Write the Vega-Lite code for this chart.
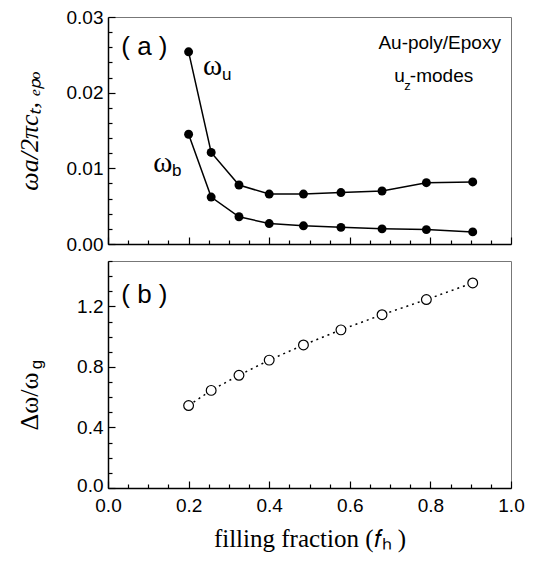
{
  "$schema": "https://vega.github.io/schema/vega-lite/v6.json",
  "padding": {"left": 15, "top": 7, "right": 20, "bottom": 5},
  "background": "white",
  "spacing": 4,
  "config": {
    "view": {"stroke": "#777777", "strokeWidth": 1},
    "axis": {
      "grid": false,
      "labelFlush": false,
      "domainColor": "black",
      "domainWidth": 1.5,
      "tickColor": "black",
      "tickWidth": 1.2,
      "labelFont": "Liberation Sans",
      "labelFontSize": 19,
      "labelColor": "black",
      "titleFont": "Liberation Serif",
      "titleFontSize": 26,
      "titleFontWeight": "normal",
      "titleColor": "black"
    }
  },
  "datasets": {
    "top": [
      {"f": 0.2, "mode": "u", "w": 0.0254},
      {"f": 0.256, "mode": "u", "w": 0.0121},
      {"f": 0.325, "mode": "u", "w": 0.0078},
      {"f": 0.4, "mode": "u", "w": 0.0066},
      {"f": 0.485, "mode": "u", "w": 0.0066},
      {"f": 0.578, "mode": "u", "w": 0.0068},
      {"f": 0.68, "mode": "u", "w": 0.007},
      {"f": 0.79, "mode": "u", "w": 0.0081},
      {"f": 0.905, "mode": "u", "w": 0.0082},
      {"f": 0.2, "mode": "b", "w": 0.0145},
      {"f": 0.256, "mode": "b", "w": 0.0062},
      {"f": 0.325, "mode": "b", "w": 0.0036},
      {"f": 0.4, "mode": "b", "w": 0.0027},
      {"f": 0.485, "mode": "b", "w": 0.0024},
      {"f": 0.578, "mode": "b", "w": 0.0022},
      {"f": 0.68, "mode": "b", "w": 0.002},
      {"f": 0.79, "mode": "b", "w": 0.0019},
      {"f": 0.905, "mode": "b", "w": 0.0016}
    ],
    "bottom": [
      {"f": 0.2, "r": 0.545},
      {"f": 0.256, "r": 0.645},
      {"f": 0.325, "r": 0.745},
      {"f": 0.4, "r": 0.845},
      {"f": 0.485, "r": 0.945},
      {"f": 0.578, "r": 1.045},
      {"f": 0.68, "r": 1.145},
      {"f": 0.79, "r": 1.245},
      {"f": 0.905, "r": 1.355}
    ]
  },
  "vconcat": [
    {
      "width": 403,
      "height": 227,
      "data": {"name": "top"},
      "encoding": {
        "x": {
          "field": "f", "type": "quantitative",
          "scale": {"domain": [0, 1], "nice": false},
          "axis": {
            "title": null,
            "values": [0, 0.05, 0.1, 0.15, 0.2, 0.25, 0.3, 0.35, 0.4, 0.45, 0.5, 0.55, 0.6, 0.65, 0.7, 0.75, 0.8, 0.85, 0.9, 0.95, 1],
            "labels": false,
            "tickSize": {"condition": {"test": "abs(datum.value*5 - round(datum.value*5)) < 0.001", "value": -7}, "value": -4}
          }
        },
        "y": {
          "field": "w", "type": "quantitative",
          "scale": {"domain": [0, 0.03], "nice": false, "zero": false},
          "axis": {
            "title": "ωa/2πcₜ, ₑₚₒ",
            "titleFontStyle": "italic",
            "titlePadding": 20,
            "minExtent": 46,
            "maxExtent": 46,
            "values": [0, 0.002, 0.004, 0.006, 0.008, 0.01, 0.012, 0.014, 0.016, 0.018, 0.02, 0.022, 0.024, 0.026, 0.028, 0.03],
            "labelExpr": "abs(datum.value*100 - round(datum.value*100)) < 0.001 ? format(datum.value, '.2f') : ''",
            "labelPadding": 12,
            "tickSize": {"condition": {"test": "abs(datum.value*100 - round(datum.value*100)) < 0.001", "value": -7}, "value": -4}
          }
        }
      },
      "layer": [
        {"mark": {"type": "line", "color": "black", "strokeWidth": 1.5}, "encoding": {"detail": {"field": "mode"}}},
        {"mark": {"type": "point", "filled": true, "color": "black", "size": 80, "opacity": 1}},
        {"transform": [{"filter": "datum.f === 0.2 && datum.mode === 'u'"}],
         "mark": {"type": "text", "text": "( a )", "font": "Liberation Sans", "fontSize": 26, "align": "left", "baseline": "middle"},
         "encoding": {"x": {"datum": 0.033}, "y": {"datum": 0.02605}}},
        {"transform": [{"filter": "datum.f === 0.2 && datum.mode === 'u'"}],
         "mark": {"type": "text", "text": "ω", "font": "Liberation Serif", "fontSize": 29, "align": "left", "baseline": "middle"},
         "encoding": {"x": {"datum": 0.236}, "y": {"datum": 0.0235}}},
        {"transform": [{"filter": "datum.f === 0.2 && datum.mode === 'u'"}],
         "mark": {"type": "text", "text": "u", "font": "Liberation Sans", "fontSize": 17, "align": "left", "baseline": "middle"},
         "encoding": {"x": {"datum": 0.283}, "y": {"datum": 0.0224}}},
        {"transform": [{"filter": "datum.f === 0.2 && datum.mode === 'u'"}],
         "mark": {"type": "text", "text": "ω", "font": "Liberation Serif", "fontSize": 29, "align": "left", "baseline": "middle"},
         "encoding": {"x": {"datum": 0.112}, "y": {"datum": 0.0107}}},
        {"transform": [{"filter": "datum.f === 0.2 && datum.mode === 'u'"}],
         "mark": {"type": "text", "text": "b", "font": "Liberation Sans", "fontSize": 17, "align": "left", "baseline": "middle"},
         "encoding": {"x": {"datum": 0.159}, "y": {"datum": 0.0096}}},
        {"transform": [{"filter": "datum.f === 0.2 && datum.mode === 'u'"}],
         "mark": {"type": "text", "text": "Au-poly/Epoxy", "font": "Liberation Sans", "fontSize": 19, "align": "right", "baseline": "middle"},
         "encoding": {"x": {"datum": 0.975}, "y": {"datum": 0.02658}}},
        {"transform": [{"filter": "datum.f === 0.2 && datum.mode === 'u'"}],
         "mark": {"type": "text", "text": "u", "font": "Liberation Sans", "fontSize": 19, "align": "left", "baseline": "middle"},
         "encoding": {"x": {"datum": 0.71}, "y": {"datum": 0.02224}}},
        {"transform": [{"filter": "datum.f === 0.2 && datum.mode === 'u'"}],
         "mark": {"type": "text", "text": "z", "font": "Liberation Sans", "fontSize": 13, "align": "left", "baseline": "middle"},
         "encoding": {"x": {"datum": 0.735}, "y": {"datum": 0.0209}}},
        {"transform": [{"filter": "datum.f === 0.2 && datum.mode === 'u'"}],
         "mark": {"type": "text", "text": "-modes", "font": "Liberation Sans", "fontSize": 19, "align": "left", "baseline": "middle"},
         "encoding": {"x": {"datum": 0.749}, "y": {"datum": 0.02224}}}
      ]
    },
    {
      "width": 403,
      "height": 227,
      "data": {"name": "bottom"},
      "encoding": {
        "x": {
          "field": "f", "type": "quantitative",
          "scale": {"domain": [0, 1], "nice": false},
          "axis": {
            "title": "filling fraction (𝑓ₕ )",
            "titleFontSize": 25,
            "titlePadding": 11,
            "values": [0, 0.05, 0.1, 0.15, 0.2, 0.25, 0.3, 0.35, 0.4, 0.45, 0.5, 0.55, 0.6, 0.65, 0.7, 0.75, 0.8, 0.85, 0.9, 0.95, 1],
            "labelExpr": "abs(datum.value*5 - round(datum.value*5)) < 0.001 ? format(datum.value, '.1f') : ''",
            "labelPadding": 15,
            "tickSize": {"condition": {"test": "abs(datum.value*5 - round(datum.value*5)) < 0.001", "value": -7}, "value": -4}
          }
        },
        "y": {
          "field": "r", "type": "quantitative",
          "scale": {"domain": [0, 1.5], "nice": false},
          "axis": {
            "title": "Δω/ω",
            "titlePadding": 20,
            "titleY": 140,
            "minExtent": 46,
            "maxExtent": 46,
            "values": [0, 0.1, 0.2, 0.3, 0.4, 0.5, 0.6, 0.7, 0.8, 0.9, 1, 1.1, 1.2, 1.3, 1.4, 1.5],
            "labelExpr": "abs(datum.value*2.5 - round(datum.value*2.5)) < 0.001 ? format(datum.value, '.1f') : ''",
            "labelPadding": 12,
            "labelOffset": {"condition": {"test": "datum.value === 0", "value": -3}, "value": 0},
            "tickSize": {"condition": {"test": "abs(datum.value*2.5 - round(datum.value*2.5)) < 0.001", "value": -7}, "value": -4}
          }
        }
      },
      "layer": [
        {"mark": {"type": "line", "color": "black", "strokeWidth": 1.5, "strokeDash": [2, 4]}},
        {"mark": {"type": "point", "filled": false, "color": "black", "fill": "white", "fillOpacity": 1, "size": 95, "strokeWidth": 1.2, "opacity": 1}},
        {"transform": [{"filter": "datum.f === 0.2"}],
         "mark": {"type": "text", "text": "( b )", "font": "Liberation Sans", "fontSize": 26, "align": "left", "baseline": "middle"},
         "encoding": {"x": {"datum": 0.033}, "y": {"datum": 1.274}}},
        {"transform": [{"filter": "datum.f === 0.2"}],
         "mark": {"type": "text", "text": "g", "font": "Liberation Sans", "fontSize": 17, "angle": 270, "align": "center", "baseline": "middle"},
         "encoding": {"x": {"datum": -0.176}, "y": {"datum": 0.816}}}
      ]
    }
  ]
}
